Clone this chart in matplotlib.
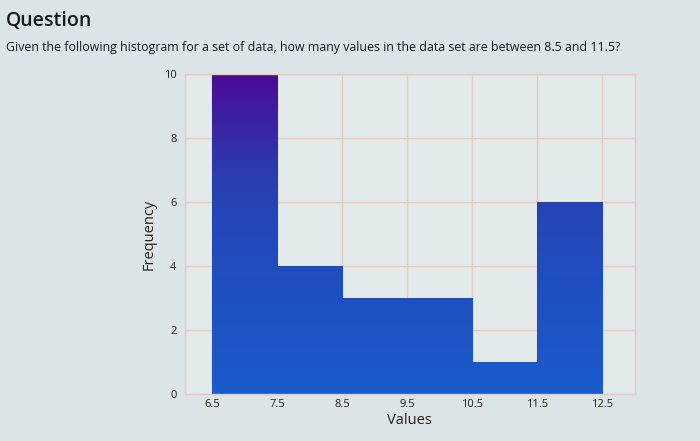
import matplotlib.pyplot as plt
import numpy as np
from matplotlib.colors import LinearSegmentedColormap

# histogram data
bin_edges = [6.5, 7.5, 8.5, 9.5, 10.5, 11.5, 12.5]
counts = [10, 4, 3, 3, 1, 6]
tick_labels = ["6.5", "7.5", "8.5", "9.5", "10.5", "11.5", "12.5"]
y_ticks = [0, 2, 4, 6, 8, 10]

title = "Question"
question = "Given the following histogram for a set of data, how many values in the data set are between 8.5 and 11.5?"

bg = "#dbe4e6"
grid_col = "#e5cbbf"
txt = "#2a1e1a"

plt.rcParams['font.family'] = ['Open Sans', 'DejaVu Sans']

fig = plt.figure(figsize=(7, 4.41), dpi=100, facecolor=bg)
ax = fig.add_axes([0.264, 0.107, 0.643, 0.725])
ax.set_facecolor("#e2eaeb")

lefts = bin_edges[:-1]
widths = np.diff(bin_edges)
bars = ax.bar(lefts, counts, width=widths, align="edge",
              color="#1f55c6", edgecolor="#d6e0ee", linewidth=0.8, zorder=2)

# purple-to-blue vertical shading like the screen
cmap = LinearSegmentedColormap.from_list("pb", ["#1b5bcc", "#1f4fc2", "#2840b0", "#4a0a98"])
grad = np.linspace(0, 1, 256).reshape(-1, 1)
for b in bars:
    im = ax.imshow(grad, cmap=cmap, origin="lower", aspect="auto",
                   extent=[bin_edges[0], bin_edges[-1], 0, 10], zorder=2.5)
    im.set_clip_path(b)

ax.set_xlim(6.08, 13.0)
ax.set_ylim(0, 10)
ax.set_xticks(bin_edges)
ax.set_xticklabels(tick_labels)
ax.set_yticks(y_ticks)
ax.grid(True, color=grid_col, linewidth=1.0, zorder=0)
ax.set_axisbelow(True)
for s in ax.spines.values():
    s.set_color(grid_col)
    s.set_linewidth(1.0)
ax.tick_params(length=0, labelsize=8, labelcolor=txt)
ax.tick_params(axis="x", pad=4)
ax.tick_params(axis="y", pad=6)
ax.set_xlabel("Values", fontsize=10.5, color=txt, labelpad=2)
ax.set_ylabel("Frequency", fontsize=10.5, color=txt, labelpad=5)

fig.text(0.008, 0.975, title, fontsize=14, fontweight="semibold", color="#1a1a1a", va="top", ha="left")
fig.text(0.008, 0.892, question, fontsize=8.9, color="#1a1a1a", va="center", ha="left")

fig.savefig("out.png", dpi=100, facecolor=bg)
